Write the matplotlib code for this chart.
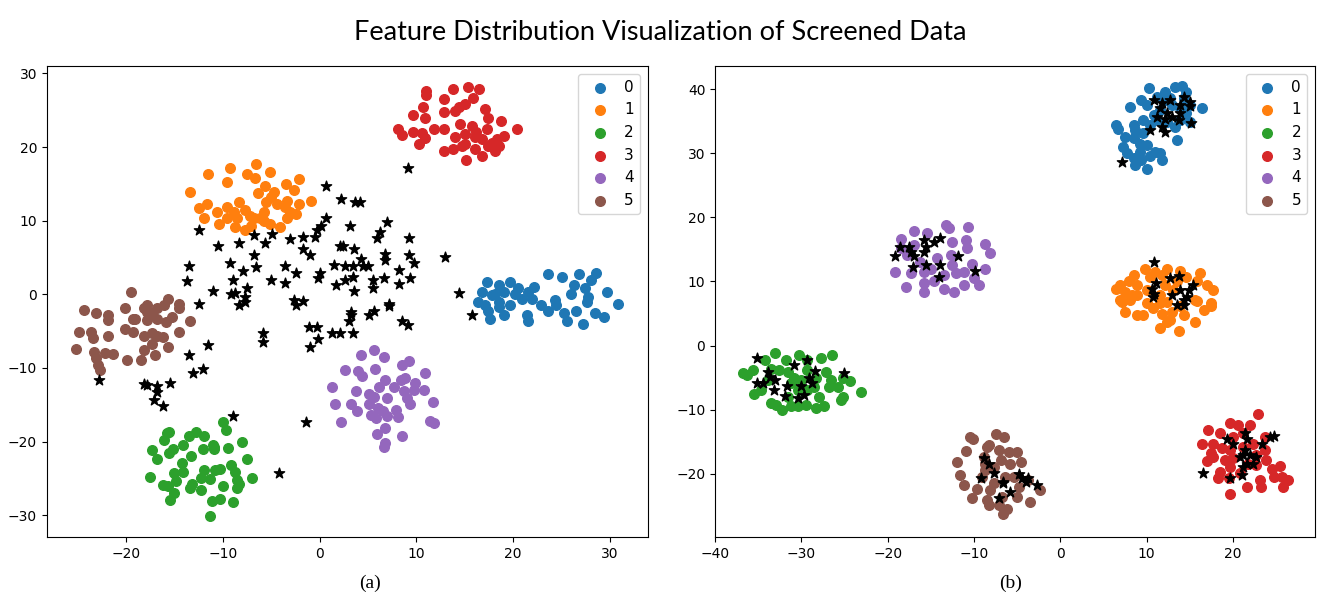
import numpy as np
import matplotlib.pyplot as plt

# t-SNE embeddings, one list of (x, y) points per class
# (a) before screening
a0 = [(23.6, 2.7), (25.0, 2.3), (26.8, 2.8), (28.6, 2.9), (28.0, 1.9), (26.3, 1.2), (27.4, 0.8),
      (29.7, 0.3), (30.8, -1.3), (19.7, 1.7), (18.5, 1.2), (17.3, 1.7), (16.8, 0.3), (17.8, -0.1),
      (19.1, 0.3), (20.5, 0.8), (21.5, 0.3), (22.2, 1.0), (20.9, -0.6), (24.3, -0.8), (26.0, 0.1),
      (27.7, -0.4), (16.4, -1.0), (18.5, -1.0), (17.4, -2.2), (17.6, -3.3), (19.1, -2.8), (18.5, -1.7),
      (19.7, -1.5), (21.4, -2.8), (21.5, -3.6), (21.9, -0.6), (22.9, -1.5), (23.6, -2.2), (24.4, -1.5),
      (25.3, -2.6), (25.6, -3.6), (26.5, -2.2), (27.2, -4.0), (27.6, -1.0), (28.5, -2.6), (29.4, -3.1),
      (17.1, -1.5), (18.1, 0.1), (20.2, 0.1)]
a1 = [(-13.4, 13.9), (-11.5, 16.3), (-9.3, 17.2), (-9.6, 15.2), (-7.5, 16.4), (-6.6, 17.7), (-6.7, 15.8),
      (-5.1, 16.6), (-5.6, 14.7), (-6.4, 13.7), (-4.7, 13.9), (-3.5, 15.0), (-2.1, 15.6), (-2.6, 14.1),
      (-0.9, 12.7), (-2.1, 12.2), (-3.4, 12.7), (-12.5, 11.7), (-11.6, 12.3), (-11.9, 10.3), (-10.6, 11.2),
      (-10.4, 9.6), (-9.6, 10.3), (-9.6, 11.8), (-8.3, 12.6), (-7.7, 11.5), (-8.5, 10.3), (-8.7, 9.1),
      (-7.7, 8.7), (-7.1, 9.3), (-6.8, 10.3), (-5.8, 11.2), (-5.5, 12.5), (-5.0, 13.2), (-4.4, 12.3),
      (-5.8, 10.0), (-5.1, 9.6), (-4.1, 9.1), (-3.4, 10.3), (-3.1, 11.2), (-2.4, 10.9), (-3.6, 11.8),
      (-6.2, 10.3), (-8.9, 11.2), (-7.2, 10.7)]
a2 = [(-15.8, -18.9), (-15.6, -18.7), (-16.1, -19.8), (-17.3, -21.2), (-16.8, -22.4), (-15.6, -21.6),
      (-15.2, -21.0), (-14.1, -20.5), (-13.5, -19.3), (-12.8, -18.7), (-11.9, -19.3), (-11.0, -20.5),
      (-10.9, -21.0), (-10.0, -17.4), (-9.7, -18.4), (-9.5, -20.9), (-8.0, -20.0), (-13.3, -22.0),
      (-14.2, -22.9), (-14.1, -24.1), (-15.0, -24.2), (-14.8, -25.4), (-16.2, -25.9), (-15.7, -26.0),
      (-17.5, -24.8), (-15.5, -28.0), (-15.0, -27.0), (-13.4, -26.3), (-13.2, -25.7), (-12.3, -25.0),
      (-11.9, -23.8), (-11.3, -25.1), (-12.3, -26.6), (-10.8, -23.8), (-10.3, -23.7), (-9.2, -23.2),
      (-8.7, -24.1), (-8.5, -25.2), (-8.3, -25.7), (-7.5, -22.4), (-7.0, -25.0), (-10.0, -26.1),
      (-8.5, -26.3), (-9.0, -28.2), (-10.3, -27.8), (-11.1, -28.1), (-11.3, -30.1), (-10.9, -20.7),
      (-12.1, -21.0)]
a3 = [(11.0, 27.6), (11.0, 27.0), (13.8, 27.9), (15.3, 28.2), (16.5, 27.9), (12.8, 26.5), (15.8, 26.6),
      (15.0, 25.8), (14.4, 25.4), (14.0, 24.9), (17.1, 25.2), (17.4, 24.0), (18.7, 23.5), (20.4, 22.5),
      (19.1, 21.5), (18.3, 21.1), (18.5, 20.2), (18.1, 19.5), (17.4, 20.2), (16.8, 18.8), (16.1, 19.7),
      (15.1, 18.2), (14.7, 20.2), (13.8, 19.7), (12.9, 19.5), (14.0, 21.3), (15.0, 21.8), (15.7, 22.9),
      (16.2, 22.0), (16.8, 21.1), (17.3, 22.4), (14.5, 23.1), (12.8, 24.7), (12.8, 22.4), (11.8, 22.5),
      (10.9, 24.0), (10.7, 25.4), (9.6, 24.3), (9.6, 22.1), (8.1, 22.5), (8.5, 21.6), (10.3, 20.4),
      (10.9, 21.2), (10.6, 21.9), (15.0, 20.4), (17.8, 20.6), (16.1, 21.3)]
a4 = [(4.3, -8.3), (5.6, -7.5), (6.7, -8.5), (2.6, -10.3), (4.0, -10.4), (4.4, -11.1), (5.7, -10.2),
      (8.5, -9.6), (9.2, -9.1), (10.9, -10.7), (6.8, -11.7), (8.4, -11.7), (8.8, -11.3), (9.9, -12.0),
      (1.3, -12.6), (3.8, -13.1), (6.1, -12.6), (7.7, -12.6), (8.7, -13.1), (9.7, -13.0), (10.8, -13.0),
      (1.6, -14.9), (3.2, -14.9), (5.1, -13.6), (5.6, -14.0), (7.0, -14.1), (9.0, -14.1), (9.3, -14.9),
      (11.7, -14.6), (3.9, -15.9), (5.1, -14.9), (6.0, -15.4), (6.5, -15.8), (7.9, -15.7), (5.3, -16.4),
      (5.8, -16.8), (7.0, -16.5), (8.1, -16.7), (2.2, -17.3), (11.4, -17.2), (11.8, -17.5), (5.9, -19.0),
      (6.8, -18.2), (8.5, -19.2), (6.8, -20.2), (6.7, -20.7)]
a5 = [(-19.5, 0.3), (-24.3, -2.1), (-23.1, -2.5), (-21.9, -2.8), (-21.9, -3.5), (-20.1, -1.9), (-19.3, -3.3),
      (-19.1, -3.4), (-18.1, -1.8), (-17.8, -2.4), (-17.3, -2.6), (-16.8, -1.9), (-16.1, -1.5), (-15.7, -0.6),
      (-14.5, -1.3), (-14.5, -1.9), (-15.3, -3.1), (-13.4, -3.6), (-17.8, -3.5), (-16.8, -3.3), (-15.9, -3.7),
      (-24.9, -5.1), (-23.6, -5.1), (-23.4, -6.0), (-21.9, -5.6), (-20.1, -4.7), (-19.3, -5.1), (-18.2, -5.7),
      (-17.3, -5.3), (-16.8, -5.6), (-16.2, -5.8), (-14.5, -5.1), (-25.2, -7.4), (-23.3, -7.8), (-23.1, -8.7),
      (-22.9, -9.6), (-22.7, -10.3), (-22.2, -8.0), (-21.4, -8.1), (-19.9, -8.9), (-18.5, -8.9), (-18.2, -7.5),
      (-17.3, -6.7), (-17.0, -8.3), (-15.7, -7.1), (-17.8, -1.5)]
a_stars = [(-12.5, 8.8), (-10.5, 6.6), (-8.3, 6.9), (-6.8, 8.0), (-5.6, 7.0), (-4.9, 8.2), (-3.1, 7.5),
           (-1.7, 7.8), (-0.5, 7.8), (-0.3, 8.7), (0.1, 9.3), (0.7, 10.3), (0.7, 14.7), (-1.7, 6.2),
           (-1.0, 5.4), (-6.8, 5.4), (-9.3, 4.3), (-7.9, 3.1), (-6.6, 3.7), (-3.6, 3.9), (-2.4, 2.9),
           (-13.5, 3.9), (-13.7, 1.8), (-11.0, 0.5), (-9.0, 2.0), (-5.0, 2.0), (-3.6, 1.6), (0.0, 2.9),
           (-0.2, 2.2), (-9.2, 0.0), (-8.7, 0.2), (-7.5, 0.8), (-7.7, -0.4), (-2.6, -0.8), (-1.7, -0.9),
           (-12.5, -1.3), (-8.3, -1.5), (-7.7, -1.0), (-2.4, -1.4), (-1.1, -4.5), (-0.3, -4.5), (-0.2, -6.1),
           (-1.0, -7.2), (-5.9, -5.3), (-5.9, -6.5), (-11.5, -6.9), (-13.5, -8.3), (-13.1, -10.7),
           (-12.1, -10.2), (-22.8, -11.6), (-18.2, -12.2), (-17.8, -12.3), (-16.8, -12.5), (-16.8, -13.2),
           (-17.1, -14.3), (-16.2, -15.2), (-15.5, -12.0), (-9.0, -16.5), (-1.4, -17.3), (-4.2, -24.3),
           (9.1, 17.2), (2.2, 12.9), (3.7, 12.5), (4.2, 12.6), (3.1, 9.3), (7.0, 9.8), (6.2, 8.4),
           (5.9, 7.6), (9.2, 7.6), (2.1, 6.5), (2.4, 6.5), (3.6, 6.2), (13.0, 5.1), (6.8, 5.5), (6.8, 4.6),
           (4.3, 4.8), (1.5, 4.0), (2.6, 3.9), (3.4, 3.9), (4.5, 3.9), (5.0, 3.9), (9.2, 5.3), (9.7, 4.2),
           (8.2, 3.3), (9.3, 2.2), (8.2, 1.4), (6.7, 2.2), (5.5, 1.9), (5.5, 0.8), (3.4, 2.3), (1.7, 1.2),
           (2.6, 1.9), (3.6, 0.5), (14.4, 0.2), (7.2, -1.3), (3.2, -2.4), (3.2, -2.8), (3.0, -3.6),
           (5.1, -2.8), (5.6, -2.3), (7.2, -1.6), (8.5, -3.6), (9.1, -4.2), (1.3, -5.3), (2.1, -5.2),
           (3.4, -5.3), (15.7, -2.8)]

# (b) after screening
b0 = [(10.3, 40.1), (12.1, 39.5), (13.3, 40.3), (14.1, 40.5), (14.6, 39.5), (16.4, 37.1), (8.1, 37.2),
      (9.4, 38.3), (10.0, 37.5), (11.2, 38.8), (12.1, 38.3), (12.9, 37.5), (13.9, 37.0), (15.0, 37.5),
      (11.6, 36.7), (10.8, 36.0), (9.6, 35.2), (8.5, 34.4), (6.4, 34.4), (6.7, 33.8), (7.5, 32.6),
      (8.5, 32.3), (9.6, 33.1), (10.4, 34.4), (11.2, 35.2), (12.3, 34.9), (13.9, 35.2), (15.0, 34.9),
      (13.3, 34.1), (13.5, 32.1), (7.3, 31.0), (7.7, 30.0), (8.5, 29.2), (8.7, 28.2), (9.2, 30.2),
      (10.0, 31.3), (10.4, 29.5), (10.0, 27.6), (11.0, 30.2), (11.8, 28.9), (11.6, 30.0), (9.4, 28.9),
      (12.7, 38.6), (14.3, 38.6), (14.6, 36.2), (8.7, 33.6), (9.2, 31.5)]
b1 = [(9.8, 12.0), (11.0, 11.5), (12.3, 12.0), (13.9, 11.6), (16.2, 11.3), (8.5, 11.0), (7.9, 10.0),
      (6.9, 9.4), (6.4, 8.9), (7.5, 8.4), (8.9, 9.4), (10.4, 10.7), (11.8, 11.0), (12.1, 9.4), (13.5, 10.0),
      (14.6, 10.7), (15.8, 10.0), (17.7, 8.7), (17.0, 9.4), (8.9, 7.9), (6.9, 7.1), (8.1, 7.1), (11.6, 7.9),
      (12.3, 6.8), (15.6, 7.1), (17.5, 6.6), (10.0, 8.7), (13.1, 8.7), (7.1, 6.8), (7.5, 5.3), (8.9, 4.8),
      (9.6, 4.8), (10.7, 5.8), (11.8, 5.0), (12.3, 3.7), (11.6, 2.8), (12.7, 4.0), (13.8, 2.2), (14.3, 4.8),
      (15.6, 3.7), (16.6, 5.6), (17.5, 6.2), (15.8, 7.0), (8.3, 7.9), (10.0, 6.6), (11.6, 6.6), (12.9, 5.3),
      (13.9, 6.1)]
b2 = [(-36.8, -4.3), (-36.3, -4.6), (-35.6, -3.8), (-35.5, -7.5), (-34.2, -2.3), (-33.1, -1.2), (-31.8, -2.3),
      (-30.3, -1.5), (-29.3, -2.3), (-27.7, -2.0), (-26.4, -1.5), (-33.9, -5.4), (-33.5, -3.6), (-32.6, -3.8),
      (-31.6, -4.1), (-30.8, -5.0), (-30.1, -5.4), (-29.3, -3.8), (-28.3, -5.0), (-27.2, -4.1), (-26.6, -5.4),
      (-25.8, -6.4), (-26.8, -6.4), (-25.2, -5.1), (-24.4, -5.5), (-23.1, -7.2), (-33.5, -9.0), (-32.9, -9.3),
      (-32.2, -10.1), (-31.2, -9.5), (-30.4, -9.5), (-29.5, -9.3), (-28.3, -9.8), (-27.4, -9.5), (-27.9, -8.0),
      (-25.4, -8.5), (-25.2, -8.0), (-29.3, -6.9), (-30.4, -6.9), (-31.6, -8.0), (-34.7, -6.9), (-31.2, -5.9),
      (-28.5, -6.4)]
b3 = [(22.9, -10.7), (17.1, -13.2), (18.5, -13.7), (19.7, -12.1), (20.6, -12.4), (22.0, -12.4), (23.7, -14.2),
      (16.4, -15.4), (17.7, -15.4), (18.7, -16.0), (19.7, -16.3), (17.5, -16.8), (19.1, -17.9), (17.0, -18.0),
      (20.0, -17.6), (21.2, -15.8), (22.3, -15.4), (22.7, -17.1), (23.7, -16.3), (23.8, -17.9), (21.7, -18.4),
      (22.7, -18.6), (24.5, -19.2), (25.4, -18.8), (24.7, -20.5), (25.7, -20.5), (26.4, -21.0), (25.8, -22.0),
      (23.3, -22.0), (23.1, -21.0), (21.6, -22.0), (19.7, -18.9), (18.5, -19.7), (18.3, -20.7), (19.5, -20.7),
      (19.6, -23.1), (20.8, -19.9), (20.0, -14.2), (21.2, -13.7), (17.7, -17.3)]
b4 = [(-13.2, 18.8), (-12.9, 18.3), (-10.7, 18.5), (-17.0, 17.9), (-15.4, 17.5), (-18.5, 16.7), (-17.0, 15.7),
      (-12.5, 16.1), (-10.9, 16.5), (-8.7, 15.9), (-10.8, 15.2), (-17.8, 14.1), (-16.2, 13.1), (-14.3, 13.6),
      (-12.7, 14.1), (-10.2, 12.8), (-8.7, 12.0), (-19.1, 11.4), (-17.3, 11.3), (-15.8, 11.4), (-15.0, 12.0),
      (-13.5, 11.0), (-12.1, 11.3), (-11.2, 11.5), (-10.0, 10.5), (-17.9, 9.2), (-15.8, 9.7), (-15.8, 8.3),
      (-13.5, 8.9), (-12.3, 8.4), (-11.2, 9.5), (-9.4, 9.5), (-14.6, 10.0), (-12.5, 12.6), (-18.5, 15.2),
      (-8.1, 14.5)]
b5 = [(-10.5, -14.2), (-10.1, -14.6), (-10.9, -16.4), (-12.0, -18.1), (-11.6, -20.2), (-11.2, -21.8),
      (-10.2, -23.8), (-9.7, -22.3), (-9.1, -20.5), (-8.7, -18.4), (-8.5, -15.8), (-8.3, -24.9), (-7.5, -13.8),
      (-6.5, -14.2), (-8.3, -15.5), (-7.1, -16.3), (-6.0, -16.6), (-5.0, -16.6), (-4.6, -18.1), (-8.7, -19.4),
      (-7.7, -18.9), (-6.9, -17.9), (-5.8, -18.4), (-6.4, -20.5), (-5.4, -20.5), (-4.8, -22.0), (-3.5, -24.4),
      (-2.3, -22.5), (-8.1, -22.5), (-6.7, -23.6), (-7.1, -24.9), (-6.6, -26.2), (-6.2, -25.5), (-7.7, -21.5),
      (-8.5, -24.1), (-5.0, -23.6), (-3.8, -21.0), (-8.9, -17.3)]
b_stars = [(10.8, 38.3), (11.8, 37.8), (12.7, 38.3), (14.3, 38.8), (15.0, 38.0), (13.9, 37.5), (15.0, 37.3),
           (11.6, 37.0), (12.3, 36.2), (12.9, 35.7), (11.2, 35.7), (12.1, 35.4), (13.9, 36.2), (13.7, 35.2),
           (15.1, 34.7), (10.4, 33.6), (11.8, 34.1), (12.1, 33.3), (7.1, 28.7),
           (10.9, 13.0), (12.7, 10.6), (13.7, 10.9), (11.1, 9.7), (10.6, 8.9), (10.8, 8.1), (13.9, 8.7),
           (15.4, 9.4), (14.9, 8.7), (12.9, 7.9), (14.3, 7.1), (10.7, 7.6), (13.5, 6.3), (14.3, 6.3),
           (14.7, 7.6),
           (-35.1, -1.9), (-33.9, -4.1), (-33.6, -4.9), (-33.1, -5.4), (-35.1, -5.8), (-34.5, -5.8),
           (-33.2, -7.0), (-31.9, -7.9), (-31.7, -6.3), (-30.9, -3.0), (-30.4, -8.1), (-30.1, -6.3),
           (-29.7, -7.7), (-29.3, -2.3), (-29.1, -5.1), (-28.8, -5.9), (-28.4, -3.9), (-25.1, -4.2),
           (19.3, -14.5), (20.0, -15.4), (21.4, -13.7), (21.6, -14.5), (21.4, -16.3), (21.2, -17.1),
           (20.8, -17.3), (22.0, -17.1), (22.7, -17.3), (21.6, -18.4), (21.2, -18.9), (22.3, -18.4),
           (23.4, -15.4), (24.3, -14.2), (24.7, -14.1), (16.5, -19.9), (19.7, -20.7), (21.0, -20.2),
           (-19.1, 13.9), (-18.6, 15.4), (-17.5, 15.3), (-17.3, 14.6), (-17.0, 14.0), (-15.8, 16.5),
           (-15.6, 15.4), (-15.8, 14.6), (-14.6, 16.1), (-13.9, 16.8), (-13.9, 12.5), (-14.0, 10.7),
           (-11.8, 13.9), (-9.9, 11.6), (-17.1, 12.3), (-15.6, 12.6),
           (-8.9, -17.6), (-9.2, -20.7), (-8.3, -18.4), (-7.7, -19.8), (-6.6, -21.2), (-6.6, -21.5),
           (-4.8, -20.0), (-4.4, -20.7), (-4.0, -21.2), (-3.8, -20.7), (-2.7, -21.8), (-5.8, -22.8),
           (-7.1, -23.8)]

labels = ['0', '1', '2', '3', '4', '5']
colors = ['tab:blue', 'tab:orange', 'tab:green', 'tab:red', 'tab:purple', 'tab:brown']

fig = plt.figure(figsize=(13.2, 5.97), dpi=100)
ax1 = fig.add_axes([0.0354, 0.1, 0.4553, 0.7894])
ax2 = fig.add_axes([0.5417, 0.1, 0.4545, 0.7894])

for ax, groups, stars in [(ax1, [a0, a1, a2, a3, a4, a5], a_stars),
                          (ax2, [b0, b1, b2, b3, b4, b5], b_stars)]:
    for pts, c, lab in zip(groups, colors, labels):
        p = np.array(pts)
        ax.scatter(p[:, 0], p[:, 1], s=48, color=c, label=lab)
    s = np.array(stars)
    ax.scatter(s[:, 0], s[:, 1], s=60, color='black', marker='*')
    ax.legend(loc='upper right', fontsize=11, handletextpad=0.6)

ax1.set_xlim(-28.2, 33.9)
ax1.set_ylim(-33.0, 31.0)
ax2.set_xlim(-40.0, 29.5)
ax2.set_ylim(-29.9, 43.6)

fig.suptitle('Feature Distribution Visualization of Screened Data', y=0.966,
             fontsize=19.5, family='Lato')
fig.text(370 / 1320, 1 - 583 / 597, '(a)', ha='center', va='center',
         family='Liberation Serif', fontsize=14)
fig.text(1011 / 1320, 1 - 583 / 597, '(b)', ha='center', va='center',
         family='Liberation Serif', fontsize=14)

plt.savefig('out.png')
